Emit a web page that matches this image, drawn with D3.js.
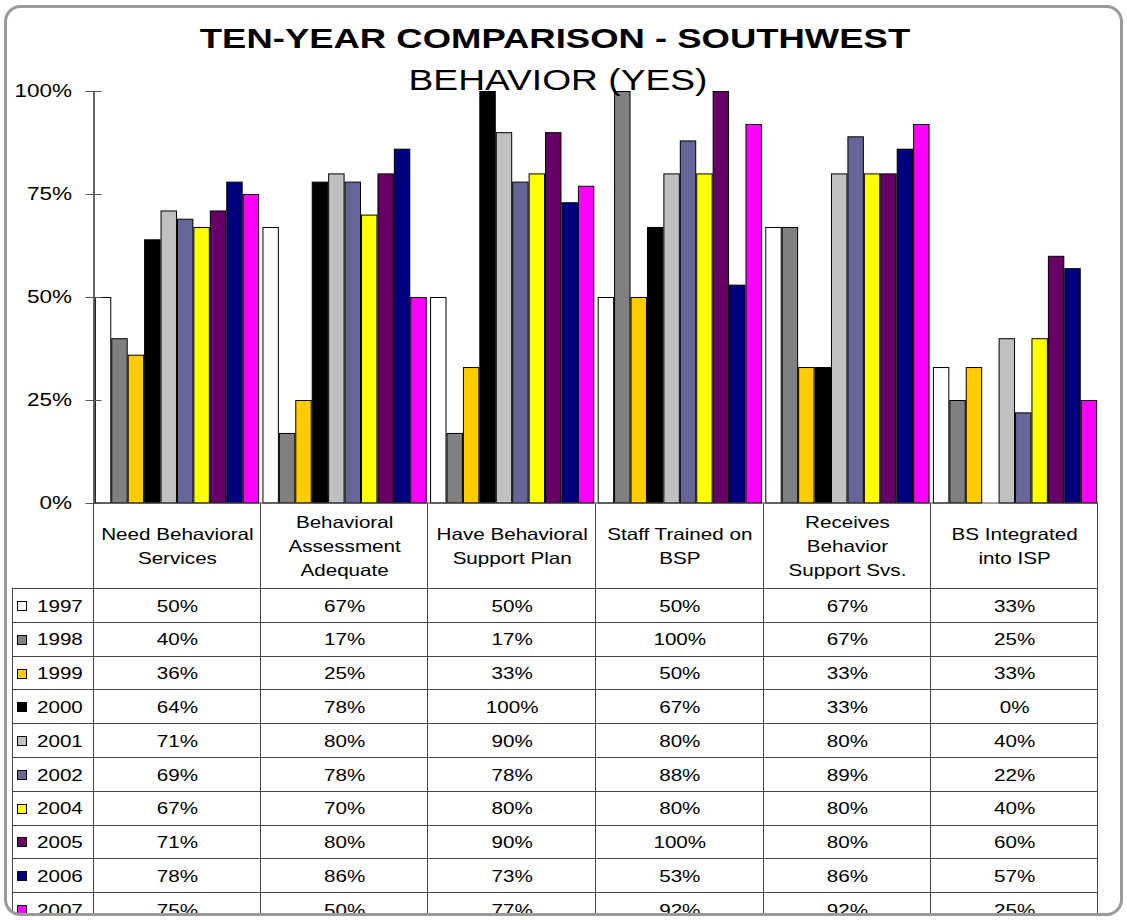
<!DOCTYPE html>
<html>
<head>
<meta charset="utf-8">
<script src="https://cdn.jsdelivr.net/npm/d3@7"></script>
<style>
  html, body { margin: 0; padding: 0; background: #fff; }
  svg { display: block; font-family: Arial, "Liberation Sans", sans-serif; }
</style>
</head>
<body>
<svg id="chart" width="1127" height="920"></svg>
<script>
// Categories (multi-line labels) and survey years
const categories = [
  ["Need Behavioral", "Services"],
  ["Behavioral", "Assessment", "Adequate"],
  ["Have Behavioral", "Support Plan"],
  ["Staff Trained on", "BSP"],
  ["Receives", "Behavior", "Support Svs."],
  ["BS Integrated", "into ISP"]
];
const years = ["1997", "1998", "1999", "2000", "2001", "2002", "2004", "2005", "2006", "2007"];
const yearColors = ["#FFFFFF", "#808080", "#FFCC00", "#000000", "#C0C0C0", "#666699", "#FFFF00", "#660066", "#000080", "#FF00FF"];

// Percent "yes" per year, one value per category
const v1997 = [50, 67, 50, 50, 67, 33];
const v1998 = [40, 17, 17, 100, 67, 25];
const v1999 = [36, 25, 33, 50, 33, 33];
const v2000 = [64, 78, 100, 67, 33, 0];
const v2001 = [71, 80, 90, 80, 80, 40];
const v2002 = [69, 78, 78, 88, 89, 22];
const v2004 = [67, 70, 80, 80, 80, 40];
const v2005 = [71, 80, 90, 100, 80, 60];
const v2006 = [78, 86, 73, 53, 86, 57];
const v2007 = [75, 50, 77, 92, 92, 25];
const seriesValues = [v1997, v1998, v1999, v2000, v2001, v2002, v2004, v2005, v2006, v2007];

const yTicks = [0, 25, 50, 75, 100];

const svg = d3.select("#chart");

// Plot geometry
const plotLeft = 94, plotRight = 1098, plotTop = 91, plotBottom = 503;
const headerBottom = 588, rowH = 33.8, tableLeft = 12;
const SX = 1.25; // wide lettering

// Text helper: horizontally widened glyphs anchored at (x, y)
function addText(parent, x, y, str, opts = {}) {
  return parent.append("text")
    .attr("transform", `translate(${x},${y}) scale(${opts.sx || SX},1)`)
    .attr("text-anchor", opts.anchor || "middle")
    .attr("dy", opts.dy === undefined ? "0.35em" : opts.dy)
    .attr("font-size", opts.size || 16.5)
    .attr("font-weight", opts.weight || "normal")
    .attr("fill", "#000")
    .text(str);
}

svg.append("defs").append("clipPath").attr("id", "frameClip")
  .append("rect").attr("x", 5).attr("y", 6).attr("width", 1117).attr("height", 909).attr("rx", 15);

const g = svg.append("g").attr("clip-path", "url(#frameClip)");

const x0 = d3.scaleBand().domain(d3.range(categories.length))
  .range([plotLeft, plotRight]).paddingInner(0.02).paddingOuter(0.005);
const x1 = d3.scaleBand().domain(d3.range(years.length)).range([0, x0.bandwidth()]).padding(0);
const y = d3.scaleLinear().domain([0, 100]).range([plotBottom, plotTop]);

// Bars
const groups = g.append("g").selectAll("g").data(categories).join("g")
  .attr("transform", (d, i) => `translate(${x0(i)},0)`);
groups.selectAll("rect")
  .data((d, ci) => years.map((yr, si) => ({ si, v: seriesValues[si][ci] })))
  .join("rect")
  .filter(d => d.v > 0)
  .attr("x", d => x1(d.si) + 0.5)
  .attr("y", d => y(d.v) + 0.5)
  .attr("width", x1.bandwidth() - 1)
  .attr("height", d => y(0) - y(d.v) - 0.5)
  .attr("fill", d => yearColors[d.si])
  .attr("stroke", "#000")
  .attr("stroke-width", 1);

// Y axis with crossing ticks
const yAxis = d3.axisLeft(y).tickValues(yTicks).tickFormat(d => d + "%").tickSize(0);
const ax = g.append("g").attr("transform", `translate(${plotLeft - 0.5},0)`).call(yAxis);
ax.select(".domain").attr("stroke", "#000").attr("stroke-width", 1.2);
ax.selectAll(".tick line").attr("x1", -8).attr("x2", 8).attr("stroke", "#555");
ax.selectAll(".tick text")
  .attr("transform", `scale(${SX},1)`)
  .attr("x", -21.5 / SX).attr("font-size", 18).attr("fill", "#000")
  .attr("font-family", "Arial, 'Liberation Sans', sans-serif");

// Data table
const table = g.append("g");
const lineColor = "#444";
const nRows = years.length;
const tableBottom = headerBottom + rowH * nRows;

// Horizontal lines
table.append("line").attr("x1", plotLeft).attr("x2", plotRight).attr("y1", plotBottom).attr("y2", plotBottom)
  .attr("stroke", lineColor);
d3.range(nRows + 1).forEach(r => {
  const yy = Math.round(headerBottom + r * rowH) + 0.5;
  table.append("line").attr("x1", tableLeft).attr("x2", plotRight).attr("y1", yy).attr("y2", yy)
    .attr("stroke", lineColor);
});
// Vertical lines
table.append("line").attr("x1", tableLeft + 0.5).attr("x2", tableLeft + 0.5)
  .attr("y1", headerBottom).attr("y2", tableBottom).attr("stroke", lineColor);
const colEdges = [plotLeft].concat(categories.map((c, i) => i === categories.length - 1 ? plotRight : (x0(i) + x0.bandwidth() + x0(i + 1)) / 2));
colEdges.forEach(xx => {
  table.append("line").attr("x1", Math.round(xx) - 0.5).attr("x2", Math.round(xx) - 0.5)
    .attr("y1", plotBottom).attr("y2", tableBottom).attr("stroke", lineColor);
});

// Category labels
categories.forEach((lines, i) => {
  const cx = (colEdges[i] + colEdges[i + 1]) / 2;
  const midY = (plotBottom + headerBottom) / 2 + 1;
  const lh = 24;
  lines.forEach((ln, k) => {
    addText(table, cx, midY + (k - (lines.length - 1) / 2) * lh, ln);
  });
});

// Rows: legend key + values
years.forEach((yr, r) => {
  const cy = headerBottom + r * rowH + rowH / 2 + 1;
  table.append("rect").attr("x", 17.5).attr("y", Math.round(cy - 5) + 0.5).attr("width", 9).attr("height", 9)
    .attr("fill", yearColors[r]).attr("stroke", "#000");
  addText(table, 37, cy, yr, { anchor: "start" });
  categories.forEach((c, i) => {
    const cx = (colEdges[i] + colEdges[i + 1]) / 2;
    addText(table, cx, cy, seriesValues[r][i] + "%");
  });
});

// Titles
addText(svg, 555, 48, "TEN-YEAR COMPARISON - SOUTHWEST", { size: 28.5, weight: "bold", dy: 0, sx: 1.28 });
addText(svg, 558, 90, "BEHAVIOR (YES)", { size: 30, dy: 0, sx: 1.24 });

// Rounded frame
svg.append("rect").attr("x", 5.5).attr("y", 6.5).attr("width", 1116).attr("height", 908).attr("rx", 15)
  .attr("fill", "none").attr("stroke", "#9a9a9a").attr("stroke-width", 3);
</script>
</body>
</html>
